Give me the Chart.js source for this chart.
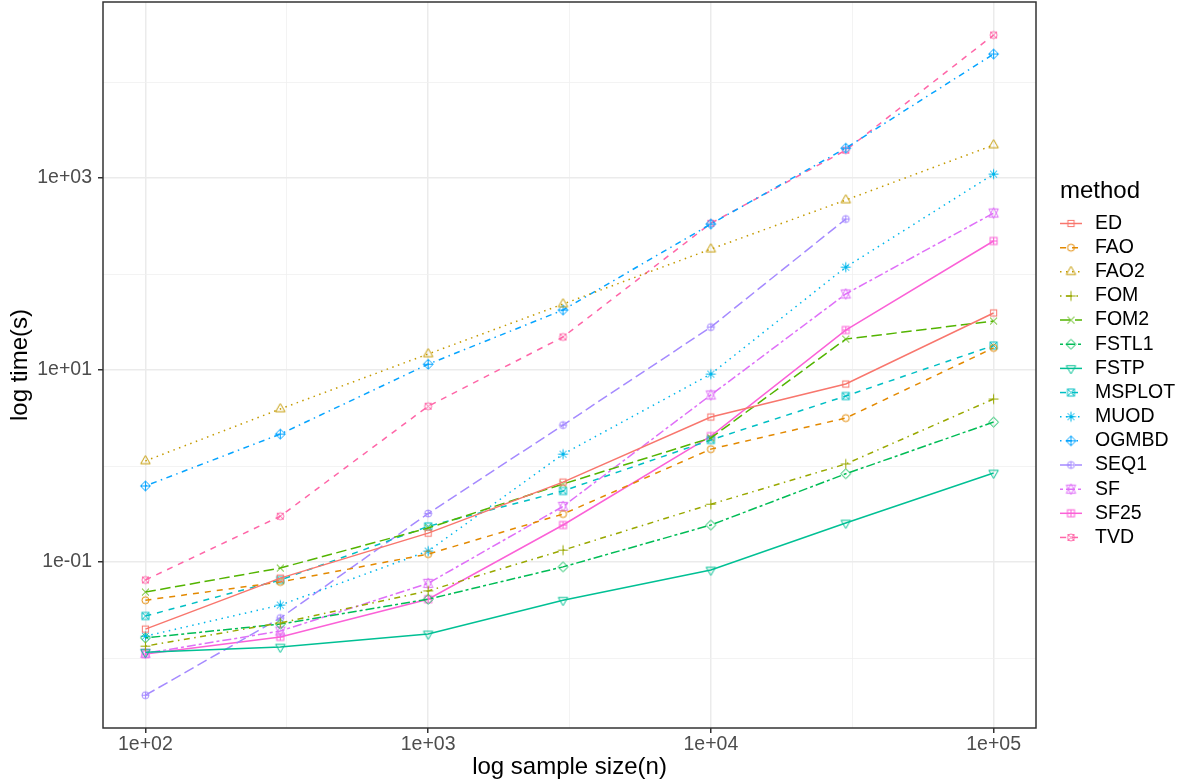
<!DOCTYPE html>
<html><head><meta charset="utf-8">
<script src="https://cdn.jsdelivr.net/npm/chart.js@4/dist/chart.umd.min.js"></script>
<style>html,body{margin:0;padding:0;background:#fff}canvas{display:block}</style>
</head><body>
<canvas id="c" width="1188" height="784"></canvas>
<script>
// ---------- data ----------
const sampleSizes = [100, 300, 1000, 3000, 10000, 30000, 100000];
const methods = ['ED','FAO','FAO2','FOM','FOM2','FSTL1','FSTP','MSPLOT','MUOD','OGMBD','SEQ1','SF','SF25','TVD'];
const ED     = [0.020, 0.068, 0.20, 0.68, 3.24, 7.15, 39.3];
const FAO    = [0.040, 0.062, 0.121, 0.316, 1.50, 3.16, 17.0];
const FAO2   = [1.13, 3.93, 14.7, 48.7, 182, 590, 2207];
const FOM    = [0.0133, 0.0232, 0.050, 0.133, 0.40, 1.05, 4.99];
const FOM2   = [0.0487, 0.0866, 0.226, 0.65, 1.96, 21.0, 32.4];
const FSTL1  = [0.0162, 0.0226, 0.041, 0.089, 0.243, 0.83, 2.87];
const FSTP   = [0.0115, 0.0130, 0.0178, 0.040, 0.0825, 0.255, 0.845];
const MSPLOT = [0.0274, 0.065, 0.235, 0.55, 1.87, 5.36, 18.0];
const MUOD   = [0.0169, 0.0356, 0.130, 1.33, 9.08, 118, 1100];
const OGMBD  = [0.62, 2.15, 11.5, 42.2, 332, 2050, 19600];
const SEQ1   = [0.0041, 0.0261, 0.32, 2.67, 28.0, 374, null];
const SF     = [0.0112, 0.0191, 0.060, 0.38, 5.5, 62, 432];
const SF25   = [0.0110, 0.0166, 0.041, 0.243, 2.05, 26.1, 221];
const TVD    = [0.065, 0.30, 4.2, 22.1, 338, 1950, 30900];
const seriesValues = [ED, FAO, FAO2, FOM, FOM2, FSTL1, FSTP, MSPLOT, MUOD, OGMBD, SEQ1, SF, SF25, TVD];

const xTickValues = [100, 1000, 10000, 100000];
const xTickLabels = ['1e+02', '1e+03', '1e+04', '1e+05'];
const xMinorValues = [Math.pow(10, 2.5), Math.pow(10, 3.5), Math.pow(10, 4.5)];
const yTickValues = [0.1, 10, 1000];
const yTickLabels = ['1e-01', '1e+01', '1e+03'];
const yMinorValues = [0.01, 1, 100, 10000];

// ---------- styles ----------
const colors = ['#F8766D','#E38900','#C49A00','#99A800','#53B400','#00BC56','#00C094','#00BFC4','#00B6EB','#06A4FF','#A58AFF','#DF70F8','#FB61D7','#FF66A8'];
const shapes = ['square','circle','triangle','plus','cross','diamond','triangleDown','squareX','asterisk','diamondPlus','circlePlus','starDavid','squarePlus','circleX'];
const lt = ['solid','dashed','dotted','dotdash','longdash','twodash'];
const U = 1.5;
const dashMap = {solid: [], dashed: [4*U,4*U], dotted: [1*U,3*U], dotdash: [1*U,3*U,4*U,3*U], longdash: [7*U,3*U], twodash: [2*U,2*U,6*U,2*U]};
const FONT = '"Liberation Sans", Arial, Helvetica, sans-serif';

function makeMarker(shape, color) {
  const S = 15;
  const c = document.createElement('canvas');
  c.width = S; c.height = S;
  const g = c.getContext('2d');
  g.strokeStyle = color; g.lineWidth = 1;
  g.translate(S / 2, S / 2);
  const R = 3.5;
  const line = (x1, y1, x2, y2) => { g.beginPath(); g.moveTo(x1, y1); g.lineTo(x2, y2); g.stroke(); };
  const poly = (pts) => { g.beginPath(); g.moveTo(pts[0][0], pts[0][1]); for (let i = 1; i < pts.length; i++) g.lineTo(pts[i][0], pts[i][1]); g.closePath(); g.stroke(); };
  const circ = (r) => { g.beginPath(); g.arc(0, 0, r, 0, Math.PI * 2); g.stroke(); };
  const TRC0 = 1.55512, TRC1 = 1.34677, TRC2 = 0.77756;
  const triUp = () => poly([[0, -TRC0 * R], [TRC1 * R, TRC2 * R], [-TRC1 * R, TRC2 * R]]);
  const triDown = () => poly([[0, TRC0 * R], [TRC1 * R, -TRC2 * R], [-TRC1 * R, -TRC2 * R]]);
  const plus = (a) => { line(-a, 0, a, 0); line(0, -a, 0, a); };
  const cross = (a) => { line(-a, -a, a, a); line(-a, a, a, -a); };
  const sq = (a) => g.strokeRect(-a, -a, 2 * a, 2 * a);
  const dia = (a) => poly([[0, -a], [a, 0], [0, a], [-a, 0]]);
  switch (shape) {
    case 'square': sq(R * 0.886); break;
    case 'circle': circ(R); break;
    case 'triangle': triUp(); break;
    case 'plus': plus(R * 1.414); break;
    case 'cross': cross(R); break;
    case 'diamond': dia(R * 1.414); break;
    case 'triangleDown': triDown(); break;
    case 'squareX': sq(R); cross(R); break;
    case 'asterisk': cross(R); plus(R * 1.414); break;
    case 'diamondPlus': dia(R * 1.414); plus(R * 1.414); break;
    case 'circlePlus': circ(R); plus(R); break;
    case 'starDavid': {
      const r = TRC0 * R, yc = 0.5 * (TRC2 * R + r), xc = TRC1 * R;
      poly([[0, -r], [xc, yc], [-xc, yc]]);
      poly([[0, r], [xc, -yc], [-xc, -yc]]);
      break;
    }
    case 'squarePlus': sq(R); plus(R); break;
    case 'circleX': circ(R); cross(R); break;
  }
  return c;
}

const datasets = methods.map((m, i) => ({
  label: m,
  data: sampleSizes.map((x, j) => ({x: x, y: seriesValues[i][j]})).filter(p => p.y !== null),
  borderColor: colors[i],
  backgroundColor: colors[i],
  borderWidth: 1.5,
  borderDash: dashMap[lt[i % 6]],
  pointStyle: makeMarker(shapes[i], colors[i]),
  pointRadius: 4,
  tension: 0,
  fill: false
}));

function buildTicks(major, minor) {
  return (scale) => {
    const all = major.map(v => ({value: v, major: false, isMajor: true}))
      .concat(minor.map(v => ({value: v, major: false, isMajor: false})));
    all.sort((a, b) => a.value - b.value);
    scale.ticks = all;
  };
}

const gridColor = (ctx) => (ctx.tick && ctx.tick.isMajor) ? '#EBEBEB' : '#F0F0F0';
const gridWidth = (ctx) => (ctx.tick && ctx.tick.isMajor) ? 1.5 : 0.8;
const tickColor = (ctx) => (ctx.tick && ctx.tick.isMajor) ? '#333333' : 'rgba(0,0,0,0)';

const framePlugin = {
  id: 'frame',
  afterDatasetsDraw(chart) {
    const {ctx, chartArea: a} = chart;
    ctx.save();
    ctx.strokeStyle = '#333333';
    ctx.lineWidth = 1.5;
    ctx.strokeRect(a.left, a.top, a.right - a.left, a.bottom - a.top);
    ctx.restore();
  }
};

const legendPlugin = {
  id: 'ggLegend',
  afterDraw(chart) {
    const ctx = chart.ctx;
    ctx.save();
    ctx.fillStyle = '#000000';
    ctx.textAlign = 'left';
    ctx.textBaseline = 'alphabetic';
    ctx.font = '24px ' + FONT;
    ctx.fillText('method', 1060, 198);
    chart.data.datasets.forEach((ds, i) => {
      const y = 223.5 + i * 24.15;
      ctx.strokeStyle = ds.borderColor;
      ctx.lineWidth = 1.5;
      ctx.setLineDash(ds.borderDash);
      ctx.beginPath(); ctx.moveTo(1060, y); ctx.lineTo(1082, y); ctx.stroke();
      ctx.setLineDash([]);
      const img = ds.pointStyle;
      ctx.drawImage(img, 1071 - img.width / 2, y - img.height / 2);
      ctx.font = '19.5px ' + FONT;
      ctx.textBaseline = 'middle';
      ctx.fillStyle = '#000000';
      ctx.fillText(ds.label, 1095, y);
    });
    ctx.restore();
  }
};

new Chart(document.getElementById('c'), {
  type: 'line',
  data: {datasets: datasets},
  plugins: [framePlugin, legendPlugin],
  options: {
    responsive: false,
    animation: false,
    devicePixelRatio: 1,
    layout: {autoPadding: false, padding: {top: 2, right: 152, left: 0, bottom: 0}},
    plugins: {legend: {display: false}, tooltip: {enabled: false}},
    scales: {
      x: {
        type: 'logarithmic',
        position: 'bottom',
        min: Math.pow(10, 1.85),
        max: Math.pow(10, 5.15),
        afterFit: (s) => { s.height = 56; s.paddingLeft = 0; s.paddingRight = 0; },
        afterBuildTicks: buildTicks(xTickValues, xMinorValues),
        border: {display: false},
        grid: {color: gridColor, lineWidth: gridWidth, tickColor: tickColor, tickWidth: 1.5, tickLength: 5, drawTicks: true},
        ticks: {
          autoSkip: false, maxRotation: 0, minRotation: 0, padding: 2,
          color: '#4D4D4D', font: {family: FONT, size: 19.5, lineHeight: 1.0},
          callback: (v, i, t) => { const k = xTickValues.indexOf(t[i].value); return (t[i].isMajor && k >= 0) ? xTickLabels[k] : ''; }
        },
        title: {display: true, text: 'log sample size(n)', color: '#000000', font: {family: FONT, size: 24, lineHeight: 1.2}, padding: {top: 0, bottom: 2}}
      },
      y: {
        type: 'logarithmic',
        position: 'left',
        min: Math.pow(10, -2.729),
        max: Math.pow(10, 4.834),
        afterFit: (s) => { s.width = 103; s.paddingTop = 0; s.paddingBottom = 0; },
        afterBuildTicks: buildTicks(yTickValues, yMinorValues),
        border: {display: false},
        grid: {color: gridColor, lineWidth: gridWidth, tickColor: tickColor, tickWidth: 1.5, tickLength: 5, drawTicks: true},
        ticks: {
          autoSkip: false, padding: 6,
          color: '#4D4D4D', font: {family: FONT, size: 19.5},
          callback: (v, i, t) => { const k = yTickValues.indexOf(t[i].value); return (t[i].isMajor && k >= 0) ? yTickLabels[k] : ''; }
        },
        title: {display: true, text: 'log time(s)', color: '#000000', font: {family: FONT, size: 24, lineHeight: 1.2}, padding: {top: 6, bottom: 0}}
      }
    }
  }
});
</script>
</body></html>
